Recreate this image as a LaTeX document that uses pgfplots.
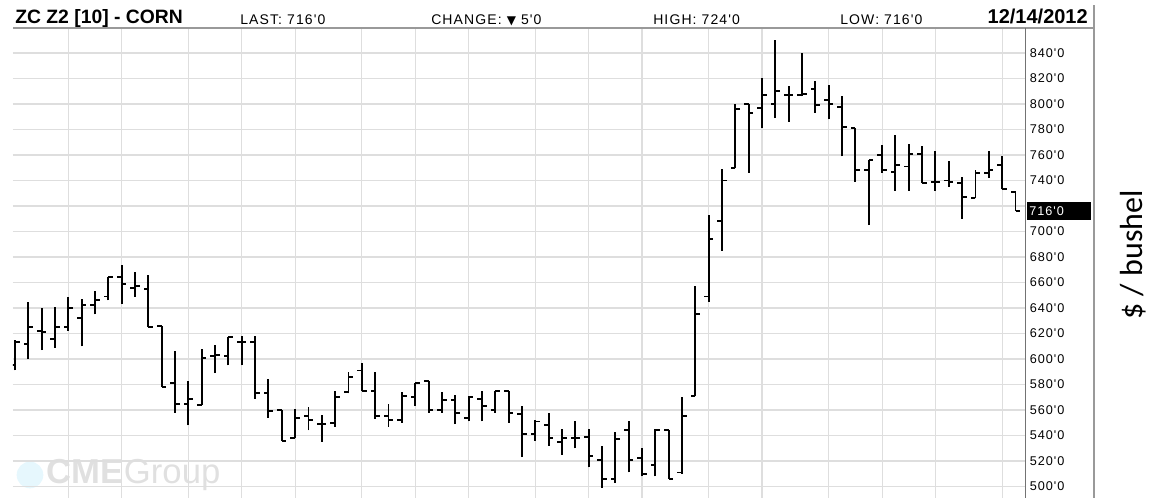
\documentclass[border=0pt]{standalone}
\usepackage{fontspec}
\setmainfont{Liberation Sans}
\newfontfamily\pix[LetterSpace=8]{Liberation Sans}
\newfontfamily\calib{Carlito}
\newfontfamily\dejavu{DejaVu Sans}
\usepackage{pgfplots}
\pgfplotsset{compat=1.18}
\usepackage{pgfplotstable}

% daily bars: index, open, high, low, close
\pgfplotstableread{
x O H L C
0 595 615 591 613
1 612 645 600 625
2 622 640 607 621
3 616 641 609 625
4 625 649 622 640
5 632 647 610 642
6 642 653 635 646
7 649 664 646 664
8 664 674 643 659
9 656 668 649 657
10 655 666 625 625
11 626 626 578 578
12 581 606 558 565
13 565 583 548 569
14 564 608 564 601
15 602 611 589 603
16 602 617 595 617
17 613 618 595 613
18 613 618 569 573
19 573 584 554 559
20 560 560 536 536
21 538 561 538 554
22 555 562 544 552
23 549 556 535 549
24 550 575 547 570
25 574 590 573 586
26 591 597 575 575
27 575 590 553 555
28 555 565 547 552
29 552 574 550 571
30 570 581 563 581
31 583 583 558 560
32 560 574 558 568
33 568 572 549 558
34 554 571 551 570
35 569 575 551 563
36 560 575 558 575
37 575 575 550 558
38 557 563 523 541
39 541 552 536 551
40 548 558 532 538
41 535 545 525 538
42 538 551 530 538
43 539 545 515 524
44 521 532 499 506
45 506 543 503 537
46 544 551 511 521
47 522 530 508 510
48 517 545 508 544
49 544 544 506 506
50 511 570 510 555
51 571 657 571 635
52 649 713 645 694
53 708 749 685 740
54 750 800 750 796
55 800 800 746 793
56 797 820 781 807
57 800 850 789 810
58 807 814 786 807
59 807 840 806 808
60 812 818 793 799
61 803 815 788 800
62 798 806 759 782
63 781 781 739 748
64 748 756 705 756
65 760 768 746 748
66 747 776 732 752
67 751 769 732 761
68 761 767 738 738
69 739 763 732 739
70 740 755 735 739
71 738 743 710 727
72 726 748 726 746
73 746 763 742 748
74 752 759 733 733
75 731 731 716 716
}\corn

\begin{document}
\begin{tikzpicture}
\path[use as bounding box] (0,0) rectangle (866.25pt,373.5pt);

% watermark
\fill[cyan!10] (22.5pt,17.25pt) circle (10pt);
\node[anchor=west, text=black!12, font=\fontsize{26}{30}\selectfont, inner sep=0pt] at (35pt,17.25pt) {\textbf{CME}Group};

\begin{axis}[
    at={(9.75pt,0pt)}, anchor=south west,
    scale only axis,
    width=759.375pt, height=352.5pt,
    xmin=-0.15, xmax=75.75,
    ymin=491, ymax=859.6,
    axis line style={draw=none},
    tick style={draw=none},
    major tick length=0pt,
    xtick={4,8,13,17,21,26,30,34,39,43,47,52,56,61,65,69,74},
    xticklabels={},
    xticklabel pos=upper,
    x tick label style={yshift=-30pt},
    ytick={500,520,...,840},
    yticklabels={500'0,520'0,540'0,560'0,580'0,600'0,620'0,640'0,660'0,680'0,700'0,{},740'0,760'0,780'0,800'0,820'0,840'0},
    yticklabel pos=right,
    yticklabel style={anchor=west, font=\fontsize{9.5}{11}\pix, inner xsep=3pt},
    grid=major,
    major grid style={black!13, line width=0.9pt},
]
    % high-low
    \addplot[black, line width=1.45pt, mark=none,
        quiver={u=0, v=\thisrow{H}-\thisrow{L}}] table[x=x, y=L] {\corn};
    % open
    \addplot[black, line width=1.45pt, mark=none,
        quiver={u=-0.35, v=0}] table[x=x, y=O] {\corn};
    % close
    \addplot[black, line width=1.45pt, mark=none,
        quiver={u=0.35, v=0}] table[x=x, y=C] {\corn};
\end{axis}

% frame
\draw[black!40, line width=1.1pt] (9.75pt,352.5pt) -- (820.5pt,352.5pt);
\draw[black!40, line width=1.1pt] (820.5pt,0pt) -- (820.5pt,369.75pt);
\draw[black!55, line width=1.1pt] (769.1pt,0pt) -- (769.1pt,352.5pt);

% last price box
\node[anchor=west, fill=black, text=white, font=\fontsize{9.5}{11}\pix,
      minimum height=13.5pt, text width=44.5pt, inner xsep=1.5pt, inner ysep=0pt]
      at (770.25pt,215.2pt) {716'0};

% header
\node[anchor=base west, font=\fontsize{14.5}{16}\selectfont\bfseries, inner sep=0pt] at (11.25pt,355.5pt) {ZC Z2 [10] - CORN};
\node[anchor=base west, font=\fontsize{10.5}{12}\pix, inner sep=0pt] at (180pt,355pt) {LAST: 716'0};
\node[anchor=base west, font=\fontsize{10.5}{12}\pix, inner sep=0pt] at (323.25pt,355pt) {CHANGE: {\dejavu\fontsize{9}{10}\selectfont ▼} 5'0};
\node[anchor=base west, font=\fontsize{10.5}{12}\pix, inner sep=0pt] at (489.75pt,355pt) {HIGH: 724'0};
\node[anchor=base west, font=\fontsize{10.5}{12}\pix, inner sep=0pt] at (630pt,355pt) {LOW: 716'0};
\node[anchor=base east, font=\fontsize{15}{17}\selectfont\bfseries, inner sep=0pt] at (816pt,355.5pt) {12/14/2012};

% unit label
\node[rotate=90, font=\fontsize{24}{28}\calib] at (849.75pt,182.25pt) {\$ / bushel};
\end{tikzpicture}
\end{document}
